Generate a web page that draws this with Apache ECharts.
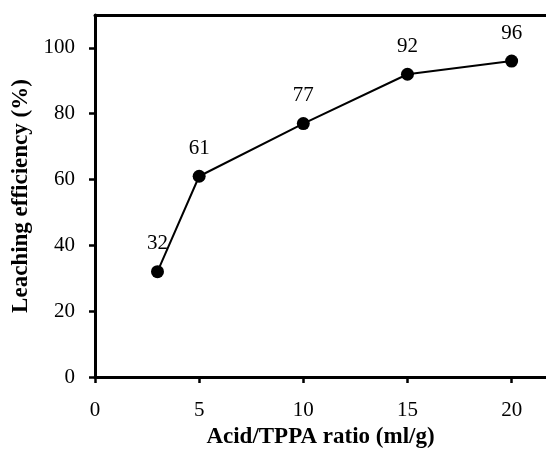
<!DOCTYPE html>
<html><head><meta charset="utf-8">
<script src="https://cdn.jsdelivr.net/npm/echarts@6/dist/echarts.min.js"></script>
<style>html,body{margin:0;padding:0;background:#fff}#c{width:546px;height:466px}</style>
</head><body><div id="c"></div>
<script>
const ratios = [3, 5, 10, 15, 20];
const efficiency = [32, 61, 77, 92, 96];
const xTicks = [0, 5, 10, 15, 20];
const yTicks = [0, 20, 40, 60, 80, 100];
const xTitle = 'Acid/TPPA ratio (ml/g)';
const yTitle = 'Leaching efficiency (%)';

const font = 'Liberation Serif';
const chart = echarts.init(document.getElementById('c'), null, {renderer: 'canvas'});
chart.setOption({
  animation: false,
  backgroundColor: '#fff',
  grid: {left: 95, top: 15, bottom: 89, right: 0, containLabel: false},
  xAxis: [{
    type: 'value', min: 0, max: 21.65, interval: 5,
    axisLine: {show: true, onZero: false, lineStyle: {color: '#000', width: 3}},
    axisTick: {show: true, inside: false, length: 6, lineStyle: {color: '#000', width: 2.5}, customValues: xTicks},
    axisLabel: {color: '#000', fontFamily: font, fontSize: 21, margin: 23, customValues: xTicks},
    splitLine: {show: false},
    name: xTitle, nameLocation: 'middle', nameGap: 48,
    nameTextStyle: {color: '#000', fontFamily: font, fontSize: 23, fontWeight: 'bold'}
  }, {
    type: 'value', position: 'top', min: 0, max: 21.65,
    axisLine: {show: true, onZero: false, lineStyle: {color: '#000', width: 3}},
    axisTick: {show: false}, axisLabel: {show: false}, splitLine: {show: false}
  }],
  yAxis: {
    type: 'value', min: 0, max: 110, interval: 20,
    axisLine: {show: true, onZero: false, lineStyle: {color: '#000', width: 3}},
    axisTick: {show: true, inside: false, length: 6, lineStyle: {color: '#000', width: 2.5}, customValues: yTicks},
    axisLabel: {color: '#000', fontFamily: font, fontSize: 21, margin: 20, customValues: yTicks},
    splitLine: {show: false},
    name: yTitle, nameLocation: 'middle', nameGap: 61,
    nameTextStyle: {color: '#000', fontFamily: font, fontSize: 23, fontWeight: 'bold'}
  },
  series: [{
    type: 'line', xAxisIndex: 0,
    data: ratios.map((r, i) => [r, efficiency[i]]),
    symbol: 'circle', symbolSize: 13,
    itemStyle: {color: '#000'},
    lineStyle: {color: '#000', width: 2},
    label: {show: true, position: 'top', distance: 11, color: '#000', fontFamily: font, fontSize: 21,
      formatter: p => p.value[1]}
  }]
});
</script></body></html>
